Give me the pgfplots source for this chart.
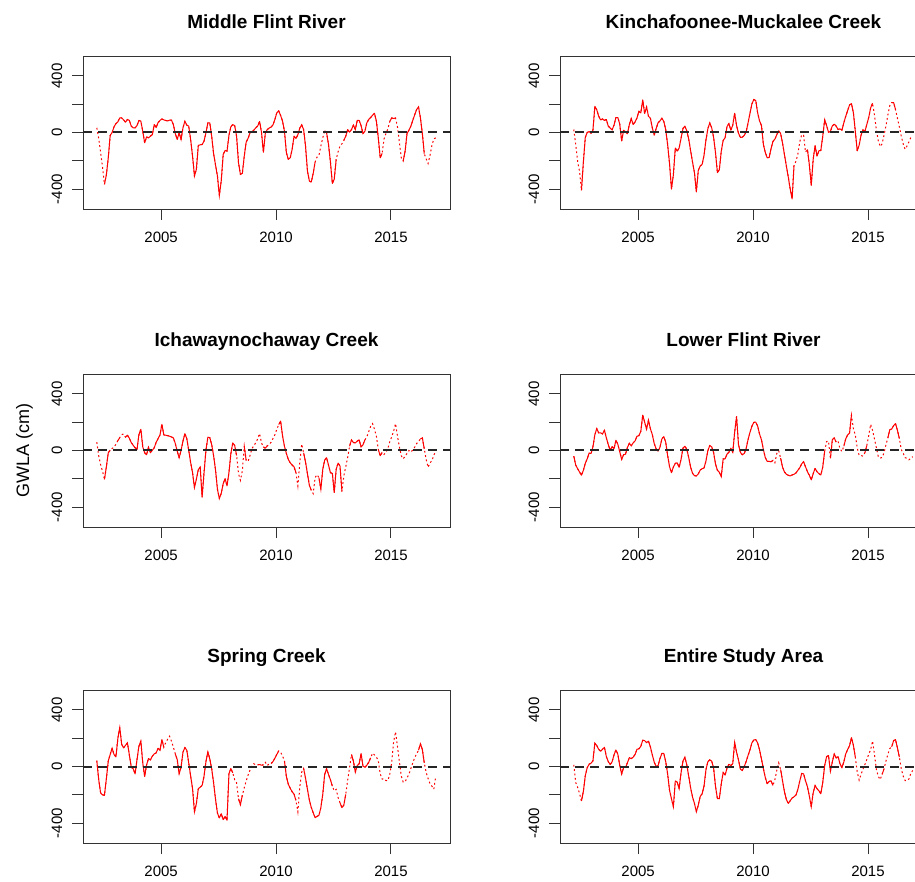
\documentclass[border=0pt]{standalone}
\usepackage{fontspec}
\setmainfont{Liberation Sans}
\usepackage{pgfplots}
\usepackage{pgfplotstable}
\pgfplotsset{compat=1.18}
\pgfplotstableread{
t a fa b fb c fc d fd e fe g fg
2002.200 33 0 21 0 59 0 -40 0 42 0 12 0
2002.283 -40 1 -85 1 -37 1 -103 0 -92 0 -113 1
2002.367 -143 1 -204 1 -101 1 -129 0 -188 0 -148 1
2002.450 -245 1 -275 1 -147 1 -152 0 -200 0 -190 1
2002.533 -367 0 -409 0 -205 0 -175 0 -204 0 -244 0
2002.617 -300 0 -209 0 -115 0 -140 0 -87 0 -176 0
2002.700 -179 0 -35 0 -16 0 -91 0 40 0 -66 0
2002.783 -21 0 0 0 2 0 -59 0 85 0 -9 0
2002.867 0 0 7 0 14 1 -19 0 129 0 16 0
2002.950 40 0 -5 0 23 1 -21 0 85 0 23 0
2003.033 63 0 16 0 44 1 26 0 68 0 40 0
2003.117 75 0 185 0 70 0 112 0 200 0 165 0
2003.200 103 0 160 0 91 0 155 0 275 0 148 0
2003.283 103 0 115 0 112 1 124 0 157 0 122 0
2003.367 89 0 89 0 117 1 124 0 132 0 108 0
2003.450 73 0 96 0 94 0 117 0 150 0 122 0
2003.533 92 0 85 0 108 0 143 0 167 0 136 0
2003.617 85 0 92 0 87 0 89 0 82 0 70 0
2003.700 45 0 45 0 56 0 42 0 -5 0 35 0
2003.783 33 0 31 0 37 0 2 0 -16 0 14 0
2003.867 33 0 19 0 19 0 28 0 -52 0 33 0
2003.950 49 0 52 0 7 0 12 0 49 0 82 0
2004.033 85 0 106 0 112 0 73 0 143 0 117 0
2004.117 80 0 106 0 150 0 44 0 180 0 87 0
2004.200 9 0 59 0 26 0 -9 0 26 0 7 0
2004.283 -73 0 -60 0 -16 0 -63 0 -71 0 -54 0
2004.367 -31 0 16 0 -30 0 -30 0 12 0 -7 0
2004.450 -38 0 5 0 23 0 -26 0 56 0 -7 0
2004.533 -26 0 -9 0 -16 0 21 0 47 0 26 0
2004.617 -15 0 56 0 2 0 51 0 73 0 63 0
2004.700 56 0 99 0 19 0 33 0 89 0 56 0
2004.783 35 0 56 0 58 0 54 0 96 0 66 0
2004.867 70 0 75 0 84 0 68 0 129 0 85 0
2004.950 85 0 103 0 110 0 101 0 115 0 122 0
2005.033 96 0 150 0 185 0 105 0 190 0 125 0
2005.117 89 0 139 0 110 0 136 0 136 0 143 0
2005.200 85 0 230 0 108 0 250 0 169 1 186 0
2005.283 82 0 134 0 105 0 201 0 193 1 183 0
2005.367 87 0 181 0 101 0 150 0 214 1 169 0
2005.450 87 0 115 0 96 0 215 0 179 1 179 0
2005.533 56 0 101 0 89 0 154 0 136 1 139 0
2005.617 -9 0 33 0 49 0 112 0 89 0 82 0
2005.700 -49 0 -19 0 -5 0 49 0 49 0 31 0
2005.783 -2 0 28 0 -51 0 12 0 -52 0 0 0
2005.867 -49 0 68 0 0 0 -5 0 -5 0 5 0
2005.950 33 0 82 0 66 0 23 0 101 0 56 0
2006.033 80 0 101 0 119 0 82 0 134 0 92 0
2006.117 52 0 78 0 84 0 98 0 115 0 92 0
2006.200 45 0 21 0 2 0 59 0 26 0 35 0
2006.283 -49 0 -85 0 -84 0 -35 0 -66 0 -52 0
2006.367 -167 0 -221 0 -157 0 -115 0 -157 0 -169 0
2006.450 -308 0 -400 0 -262 0 -157 0 -320 0 -228 0
2006.533 -261 0 -300 0 -204 0 -117 0 -263 0 -285 0
2006.617 -92 0 -110 0 -136 0 -91 0 -157 0 -103 0
2006.700 -87 0 -132 0 -117 0 -87 0 -146 0 -110 0
2006.783 -85 0 -110 0 -330 0 -119 0 -134 0 -157 0
2006.867 -61 0 -42 0 -157 0 -63 0 -68 0 -45 0
2006.950 -2 0 28 0 2 0 16 0 35 0 38 0
2007.033 68 0 45 0 94 0 30 0 103 0 66 0
2007.117 68 0 12 0 91 0 9 0 54 0 12 0
2007.200 -26 0 -47 0 42 0 -49 0 -16 0 -68 0
2007.283 -150 0 -127 0 -37 0 -117 0 -115 0 -150 0
2007.367 -230 0 -209 0 -138 0 -161 0 -233 0 -216 0
2007.450 -308 0 -284 0 -274 0 -178 0 -329 0 -261 0
2007.533 -445 0 -420 0 -340 0 -180 0 -364 0 -320 0
2007.617 -340 0 -268 0 -302 0 -166 0 -334 0 -273 0
2007.700 -155 0 -237 0 -234 0 -138 0 -376 0 -212 0
2007.783 -127 0 -226 0 -199 0 -129 0 -353 0 -193 0
2007.867 -132 0 -162 0 -250 0 -124 0 -380 0 -139 0
2007.950 -21 0 -54 0 -157 0 -75 0 -52 0 -23 0
2008.033 40 0 26 0 -23 0 -2 0 -14 0 33 0
2008.117 56 0 68 0 54 0 35 0 -45 0 47 0
2008.200 49 0 33 0 35 0 26 0 -94 1 38 0
2008.283 -26 0 -33 0 -35 0 -14 0 -115 1 -9 0
2008.367 -214 0 -143 0 -164 1 -96 0 -228 0 -141 0
2008.450 -296 0 -284 0 -211 1 -140 0 -270 0 -228 0
2008.533 -289 0 -263 0 -145 1 -154 0 -204 0 -228 0
2008.617 -167 0 -132 0 30 0 -185 0 -150 1 -122 0
2008.700 -68 0 -56 0 -70 0 -59 0 -103 1 -42 0
2008.783 -42 0 -38 0 -77 1 -59 0 -61 1 -61 0
2008.867 -2 0 42 0 -35 1 -26 0 -26 1 -12 0
2008.950 7 0 63 0 12 1 -12 0 2 1 16 0
2009.033 16 0 16 0 35 1 14 0 19 1 7 0
2009.117 33 0 52 0 54 1 -12 0 12 1 21 0
2009.200 45 0 136 0 82 0 129 0 12 0 170 0
2009.283 78 0 49 0 120 1 240 0 14 0 101 0
2009.367 2 0 -5 0 54 1 42 0 9 0 47 0
2009.450 -140 0 -35 0 26 0 -14 0 12 0 -19 0
2009.533 -5 0 -33 0 16 0 -30 0 30 1 -28 0
2009.617 21 0 -21 0 33 0 -21 0 7 1 0 0
2009.700 31 0 5 0 42 1 14 0 19 1 35 0
2009.783 38 0 68 0 58 1 77 0 21 0 78 0
2009.867 54 0 136 0 84 1 129 0 35 0 118 0
2009.950 92 0 202 0 112 1 171 0 59 0 167 0
2010.033 139 0 233 0 150 1 199 0 85 0 188 0
2010.117 153 0 226 0 183 0 201 0 110 0 190 0
2010.200 120 0 139 0 208 0 173 0 101 1 167 0
2010.283 80 0 82 0 103 0 117 0 75 1 118 0
2010.367 9 0 49 0 30 0 75 0 38 0 52 0
2010.450 -143 0 -85 0 -21 0 7 0 -71 0 -16 0
2010.533 -190 0 -141 0 -63 0 -51 0 -125 0 -78 0
2010.617 -179 0 -179 0 -87 0 -77 0 -153 0 -122 0
2010.700 -120 0 -176 0 -103 0 -77 0 -179 0 -106 0
2010.783 -26 0 -115 0 -115 0 -80 0 -195 0 -101 0
2010.867 -42 0 -63 0 -157 0 -70 0 -240 0 -134 0
2010.950 -16 0 -47 0 -250 1 -87 1 -320 1 -94 1
2011.033 31 0 -16 0 -87 1 -21 1 -146 1 -28 1
2011.117 54 0 12 0 45 1 -2 1 -40 1 26 1
2011.200 21 0 -7 0 -16 0 -54 0 -14 0 -21 0
2011.283 -96 0 -75 0 -82 0 -117 0 -82 0 -101 0
2011.367 -273 0 -157 0 -164 0 -152 0 -162 0 -179 0
2011.450 -343 0 -237 0 -246 0 -168 0 -237 0 -233 0
2011.533 -350 0 -315 0 -281 0 -175 0 -289 0 -261 0
2011.617 -289 0 -400 0 -305 1 -180 0 -327 0 -242 0
2011.700 -209 0 -470 0 -192 1 -173 0 -362 0 -223 0
2011.783 -174 1 -233 0 -171 1 -168 0 -353 0 -214 0
2011.867 -162 1 -204 1 -192 0 -159 0 -345 0 -202 0
2011.950 -96 1 -153 1 -274 0 -140 0 -291 0 -162 0
2012.033 -38 1 -66 1 -133 0 -122 0 -197 0 -103 0
2012.117 12 0 -16 1 -68 0 -94 0 -56 0 -49 0
2012.200 -2 0 -19 1 -51 0 -80 0 -16 0 -52 0
2012.283 -85 0 -139 1 -103 0 -115 0 -56 0 -101 0
2012.367 -209 0 -120 0 -157 0 -150 0 -94 0 -143 0
2012.450 -360 0 -228 0 -162 0 -175 0 -139 0 -209 0
2012.533 -330 0 -374 0 -297 0 -208 0 -172 1 -284 0
2012.617 -190 0 -190 0 -133 0 -164 0 -162 1 -186 0
2012.700 -136 1 -92 0 -89 0 -126 0 -219 1 -134 0
2012.783 -96 1 -167 0 -110 0 -150 0 -256 0 -157 0
2012.867 -80 1 -129 0 -290 0 -164 0 -291 0 -172 0
2012.950 -56 0 -127 0 -180 1 -173 0 -273 0 -193 0
2013.033 -26 0 -26 0 -115 1 -117 0 -197 0 -113 0
2013.117 21 0 90 0 -49 1 -5 0 -96 1 7 0
2013.200 2 0 49 0 30 0 63 1 -7 1 70 0
2013.283 21 0 2 0 75 0 66 1 85 0 78 0
2013.367 52 0 7 0 56 0 -55 0 38 0 -33 0
2013.450 21 0 47 0 54 0 77 0 -40 0 33 0
2013.533 85 0 59 0 66 0 89 0 7 0 89 0
2013.617 85 0 45 0 75 0 59 0 19 0 61 0
2013.700 49 0 21 0 26 0 66 1 92 0 70 0
2013.783 -7 0 26 0 40 0 12 1 2 0 19 0
2013.867 9 0 16 0 75 0 -7 1 -5 0 -7 0
2013.950 68 0 68 0 96 1 30 0 9 0 31 0
2014.033 92 0 115 0 133 1 82 0 30 0 89 0
2014.117 106 0 155 0 171 1 110 0 61 0 120 0
2014.200 122 0 195 0 190 1 124 0 94 1 148 0
2014.283 136 0 204 0 150 1 250 0 82 1 204 0
2014.367 80 0 139 0 101 1 152 1 66 1 150 0
2014.450 -38 0 9 0 7 0 110 1 40 1 66 0
2014.533 -179 0 -130 0 -37 0 19 1 -52 1 -38 1
2014.617 -148 0 -90 0 -14 0 -35 1 -89 1 -96 1
2014.700 -45 1 -19 0 -28 1 -35 1 -87 1 -56 1
2014.783 -7 1 19 0 -12 1 -40 1 -99 0 -19 1
2014.867 26 1 7 0 14 1 -16 0 -99 1 14 1
2014.950 78 0 56 0 63 1 35 0 -54 1 49 1
2015.033 103 0 106 0 96 1 105 1 30 1 87 1
2015.117 99 0 174 0 138 1 185 1 176 1 118 1
2015.200 103 0 207 0 190 1 143 1 245 0 180 1
2015.283 40 1 125 1 103 1 82 0 143 1 87 1
2015.367 -68 1 16 1 26 1 19 1 35 1 -21 1
2015.450 -179 1 -59 1 -37 1 -42 1 -68 1 -70 1
2015.533 -202 0 -99 1 -59 1 -54 1 -110 1 -92 1
2015.617 -132 0 -80 1 -40 1 -49 1 -108 1 -56 0
2015.700 -7 0 -19 1 -21 1 -16 1 -80 1 -16 0
2015.783 16 0 47 1 0 1 40 1 -54 1 38 1
2015.867 45 0 125 1 -12 1 89 0 -14 1 87 1
2015.950 85 0 190 1 5 1 147 0 26 1 127 1
2016.033 125 0 212 0 23 1 152 0 63 1 139 0
2016.117 162 0 212 0 49 1 176 0 89 1 183 0
2016.200 181 0 162 0 63 1 190 0 115 0 190 0
2016.283 103 0 101 1 82 0 143 0 160 0 132 0
2016.367 -7 0 40 1 89 0 84 0 120 0 66 0
2016.450 -150 0 -26 1 12 0 7 1 26 0 -16 1
2016.533 -186 1 -80 1 -63 1 -19 1 -42 1 -68 1
2016.617 -219 1 -118 1 -119 1 -51 1 -85 1 -99 1
2016.700 -162 1 -96 1 -87 1 -54 1 -122 1 -99 1
2016.783 -92 1 -66 1 -73 1 -66 1 -139 1 -89 1
2016.867 -45 1 -35 1 -33 1 -54 1 -160 1 -47 1
2016.950 -38 0 -26 1 -5 1 -44 1 -68 1 -28 1
}\data

\pgfplotsset{
  gw/.style={
    width=367pt, height=153pt, scale only axis, anchor=south west,
    xmin=2001.6, xmax=2017.57, ymin=-541, ymax=541,
    xtick={2005,2010,2015}, xticklabels={2005,2010,2015},
    ytick={-400,-200,0,200,400}, yticklabels={-400,,0,,400},
    xtick pos=left, ytick pos=left,
    tick align=outside, major tick length=11pt,
    every tick/.style={black!80, line width=0.9pt},
    axis line style={black!80, line width=0.9pt},
    tick label style={font=\fontsize{15}{18}\selectfont, inner sep=0pt},
    xticklabel style={anchor=north},
    yticklabel style={rotate=90, anchor=south},
    xticklabel shift=11.6pt, yticklabel shift=9.6pt,
    title style={at={(0.5,1)}, anchor=base, yshift=21.5pt, inner sep=0pt,
      font=\fontsize{19}{22}\selectfont\bfseries},
  },
  dotl/.style={red, line width=1pt, dash pattern=on 1.8pt off 2.6pt},
  soll/.style={red, line width=1pt, line join=round, unbounded coords=jump},
  zerol/.style={black!85, line width=2pt, dash pattern=on 9pt off 6pt},
}

\begin{document}
\begin{tikzpicture}
\useasboundingbox (0,0) rectangle (915pt,881pt);
\clip (0,0) rectangle (915pt,881pt);

\begin{axis}[gw, at={(83pt,672pt)}, title={Middle Flint River}]
\addplot[dotl] table[x=t,y=a]{\data};
\addplot[soll, restrict expr to domain={\thisrow{fa}}{0:0}] table[x=t,y=a]{\data};
\addplot[zerol] coordinates {(2001.6,0) (2017.57,0)};
\end{axis}

\begin{axis}[gw, at={(560pt,672pt)}, title={Kinchafoonee-Muckalee Creek}]
\addplot[dotl] table[x=t,y=b]{\data};
\addplot[soll, restrict expr to domain={\thisrow{fb}}{0:0}] table[x=t,y=b]{\data};
\addplot[zerol] coordinates {(2001.6,0) (2017.57,0)};
\end{axis}

\begin{axis}[gw, at={(83pt,354pt)}, title={Ichawaynochaway Creek},
  ylabel={GWLA (cm)},
  ylabel style={at={(axis description cs:-0.147,0.5)}, anchor=base, inner sep=0pt,
    font=\fontsize{18}{21}\selectfont}]
\addplot[dotl] table[x=t,y=c]{\data};
\addplot[soll, restrict expr to domain={\thisrow{fc}}{0:0}] table[x=t,y=c]{\data};
\addplot[zerol] coordinates {(2001.6,0) (2017.57,0)};
\end{axis}

\begin{axis}[gw, at={(560pt,354pt)}, title={Lower Flint River}]
\addplot[dotl] table[x=t,y=d]{\data};
\addplot[soll, restrict expr to domain={\thisrow{fd}}{0:0}] table[x=t,y=d]{\data};
\addplot[zerol] coordinates {(2001.6,0) (2017.57,0)};
\end{axis}

\begin{axis}[gw, at={(83pt,38pt)}, title={Spring Creek}]
\addplot[dotl] table[x=t,y=e]{\data};
\addplot[soll, restrict expr to domain={\thisrow{fe}}{0:0}] table[x=t,y=e]{\data};
\addplot[zerol] coordinates {(2001.6,0) (2017.57,0)};
\end{axis}

\begin{axis}[gw, at={(560pt,38pt)}, title={Entire Study Area}]
\addplot[dotl] table[x=t,y=g]{\data};
\addplot[soll, restrict expr to domain={\thisrow{fg}}{0:0}] table[x=t,y=g]{\data};
\addplot[zerol] coordinates {(2001.6,0) (2017.57,0)};
\end{axis}
\end{tikzpicture}
\end{document}
